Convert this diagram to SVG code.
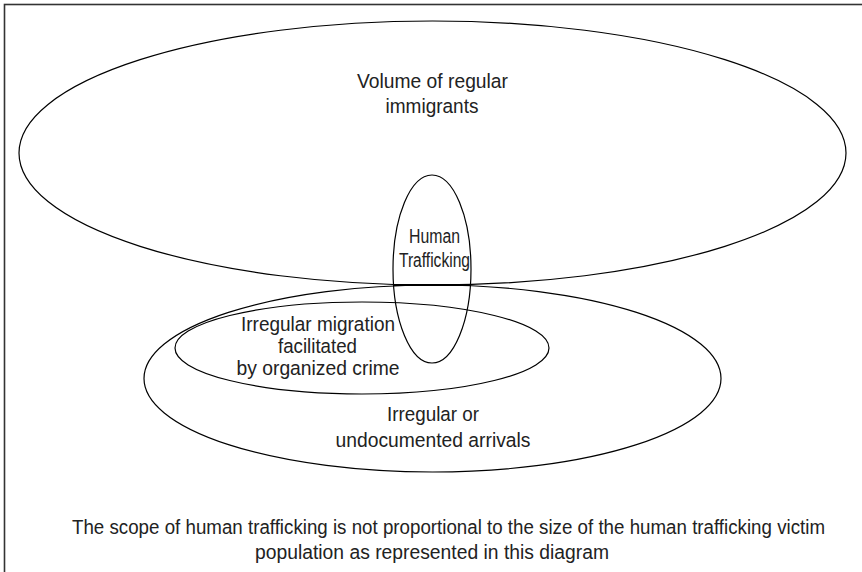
<svg xmlns="http://www.w3.org/2000/svg" width="862" height="572" viewBox="0 0 862 572">
<style>
.shape{fill:none;stroke:#000;stroke-width:1.2}
.t{font-family:"Liberation Sans",Arial,sans-serif;font-size:20.5px;fill:#222;text-anchor:middle}
.ht{font-size:20px}
.cap{font-size:19.5px}
</style>
<rect x="4.5" y="4.5" width="900" height="600" fill="#fff" stroke="#333" stroke-width="1.6"/>
<g id="regular-immigrants">
<ellipse class="shape" cx="432.5" cy="153" rx="413.5" ry="132"/>
<text class="t" x="432.5" y="87.5" textLength="151" lengthAdjust="spacingAndGlyphs">Volume of regular</text>
<text class="t" x="432" y="113" textLength="93" lengthAdjust="spacingAndGlyphs">immigrants</text>
</g>
<g id="irregular-arrivals">
<ellipse class="shape" cx="432.5" cy="378.5" rx="288.5" ry="93.5"/>
<text class="t" x="433" y="421" textLength="92" lengthAdjust="spacingAndGlyphs">Irregular or</text>
<text class="t" x="433" y="446.5" textLength="195" lengthAdjust="spacingAndGlyphs">undocumented arrivals</text>
</g>
<g id="organized-crime">
<ellipse class="shape" cx="362" cy="348" rx="187" ry="46"/>
<text class="t" x="318" y="330.5" textLength="154" lengthAdjust="spacingAndGlyphs">Irregular migration</text>
<text class="t" x="317.5" y="352.5" textLength="79" lengthAdjust="spacingAndGlyphs">facilitated</text>
<text class="t" x="318" y="375" textLength="163" lengthAdjust="spacingAndGlyphs">by organized crime</text>
</g>
<g id="human-trafficking">
<ellipse class="shape" cx="432" cy="269" rx="39" ry="94"/>
<text class="t ht" x="434.5" y="242.5" textLength="51" lengthAdjust="spacingAndGlyphs">Human</text>
<text class="t ht" x="434.5" y="266.5" textLength="71" lengthAdjust="spacingAndGlyphs">Trafficking</text>
</g>
<g id="connectors">
<line x1="394" y1="285" x2="471" y2="285" stroke="#000" stroke-width="2.2"/>
</g>
<g id="caption">
<text class="t cap" x="448.5" y="534" textLength="753" lengthAdjust="spacingAndGlyphs">The scope of human trafficking is not proportional to the size of the human trafficking victim</text>
<text class="t cap" x="432" y="559" textLength="354" lengthAdjust="spacingAndGlyphs">population as represented in this diagram</text>
</g>
</svg>
